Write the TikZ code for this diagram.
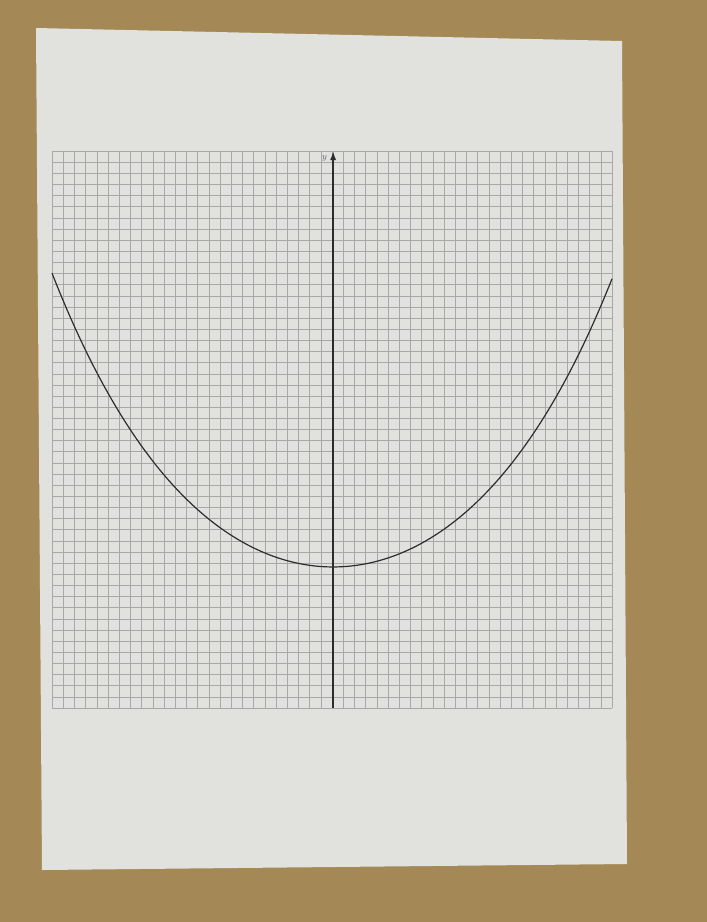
\documentclass[tikz,border=0pt]{standalone}
\usepackage{xcolor}
\usepackage{tikz}
\usetikzlibrary{arrows.meta}
\usetikzlibrary{positioning}
\definecolor{cardboard}{RGB}{164,137,86}
\definecolor{sheet}{RGB}{225,225,221}
\definecolor{gridgray}{RGB}{168,168,166}
\definecolor{inkgray}{RGB}{45,45,45}

\begin{document}
\begin{tikzpicture}[x=1pt,y=-1pt,
    gridline/.style={draw=gridgray,line width=0.6pt},
    axisline/.style={draw=inkgray,line width=1.4pt},
    curveline/.style={draw=inkgray,line width=1.2pt},
    ylabel/.style={font=\small\itshape,text=black!65,inner sep=1pt}]
    \useasboundingbox (0,0) rectangle (707,922);
    \fill[cardboard] (0,0) rectangle (707,922);
    \fill[sheet] (36,28) -- (622,41) -- (627,864) -- (42,870) -- cycle;
    \begin{scope}[shift={(52,708)},x=11.2pt,y=11.14pt]
      \foreach \i in {0,...,50}{
        \draw[gridline] (\i,0) -- (\i,50);
        \draw[gridline] (0,\i) -- (50,\i);
      }
      \coordinate (ybot) at (25.1,0);
      \coordinate (ytop) at (25.1,50);
      \draw[axisline,-{Latex[length=9pt,width=6pt]}] (ybot) -- (ytop);
      \node[ylabel,below left=3pt and 5pt of ytop] (ylab) {$y$};
      \draw[curveline] plot[domain=-25.1:24.9,samples=121]
        ({25.1+\x},{12.66+15*(cosh(\x/15)-1)});
    \end{scope}
\end{tikzpicture}
\end{document}
